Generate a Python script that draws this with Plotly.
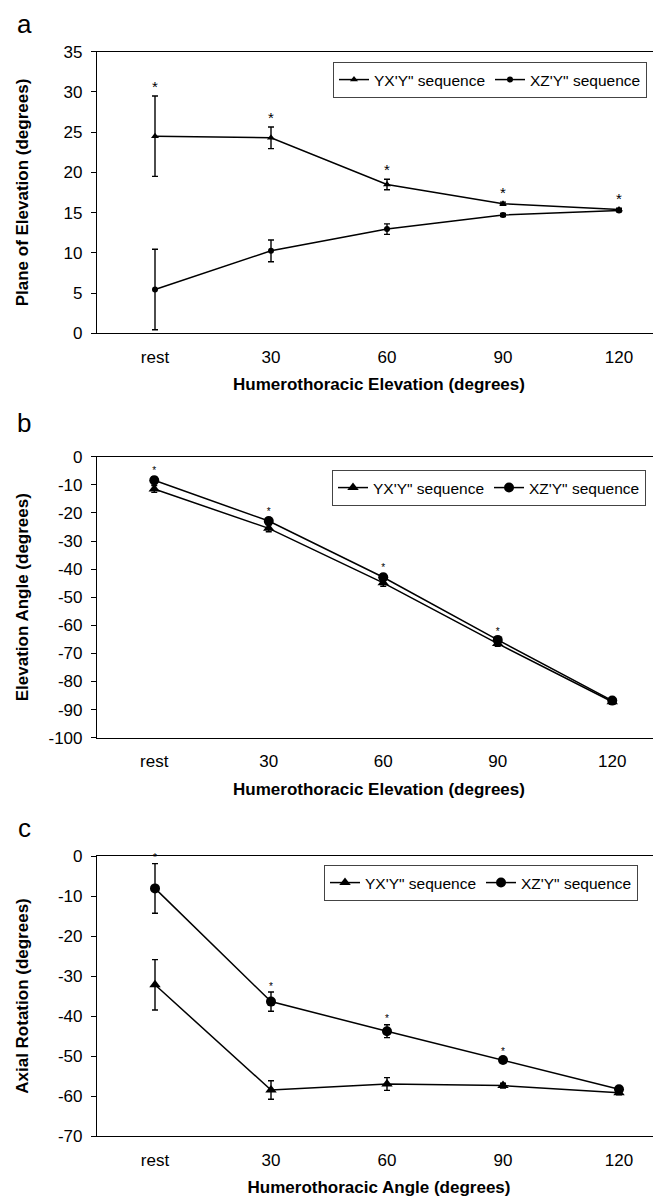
import plotly.graph_objects as go

categories = ["rest", "30", "60", "90", "120"]
series_names = ["YX'Y\" sequence", "XZ'Y\" sequence"]

# Panel a: Plane of Elevation
a_yx = [24.5, 24.3, 18.5, 16.1, 15.4]
a_yx_err = [5.0, 1.35, 0.65, 0.2, 0.15]
a_xz = [5.45, 10.25, 12.95, 14.7, 15.25]
a_xz_err = [5.0, 1.35, 0.65, 0.2, 0.15]
a_sig = [True, True, True, True, True]

# Panel b: Elevation Angle
b_yx = [-11.5, -25.5, -44.9, -66.5, -87.2]
b_yx_err = [1.2, 1.2, 1.2, 1.0, 0.8]
b_xz = [-8.4, -22.9, -42.9, -65.2, -86.8]
b_xz_err = [1.3, 1.2, 1.2, 1.0, 0.8]
b_sig = [True, True, True, True, False]

# Panel c: Axial Rotation
c_yx = [-32.2, -58.5, -57.0, -57.4, -59.2]
c_yx_err = [6.3, 2.3, 1.6, 0.6, 0.5]
c_xz = [-8.1, -36.4, -43.8, -51.0, -58.3]
c_xz_err = [6.2, 2.4, 1.6, 0.7, 0.5]
c_sig = [True, True, True, True, False]

FONT = "Liberation Sans, Arial, sans-serif"
OFF = 8                      # page body margin of the html output
W, H = 661 - OFF, 1199 - OFF
L = 97 - OFF


def py(v):
    """reference pixel row -> paper fraction"""
    return 1 - (v - OFF) / H


def px(v):
    """reference pixel column -> paper fraction"""
    return (v - OFF - L) / (W - L)


panels = [
    dict(letter="a", yx=a_yx, yxe=a_yx_err, xz=a_xz, xze=a_xz_err, sig=a_sig, star_on="yx",
         ytitle="Plane of Elevation (degrees)", xtitle="Humerothoracic Elevation (degrees)",
         yrange=[0, 35], dtick=5, dom=[py(333.3), py(51.7)], xr=[-0.5, 4.362],
         msize=(7, 6), starsize=15, tickside="bottom", legend=(333, 62), lettery=None, ystand=30),
    dict(letter="b", yx=b_yx, yxe=b_yx_err, xz=b_xz, xze=b_xz_err, sig=b_sig, star_on="xz",
         ytitle="Elevation Angle (degrees)", xtitle="Humerothoracic Elevation (degrees)",
         yrange=[-100, 0], dtick=10, dom=[py(737.7), py(456.7)], xr=[-0.5, 4.426],
         msize=(10, 10), starsize=10, tickside="top", legend=(332, 470), lettery=423, ystand=15),
    dict(letter="c", yx=c_yx, yxe=c_yx_err, xz=c_xz, xze=c_xz_err, sig=c_sig, star_on="xz",
         ytitle="Axial Rotation (degrees)", xtitle="Humerothoracic Angle (degrees)",
         yrange=[-70, 0], dtick=10, dom=[py(1136), py(856)], xr=[-0.5, 4.362],
         msize=(10, 10), starsize=10, tickside="top", legend=(324, 865), lettery=828, ystand=24),
]

xpos = list(range(len(categories)))
fig = go.Figure()
layout = dict(
    width=W, height=H, paper_bgcolor="white", plot_bgcolor="white",
    margin=dict(l=L, r=0, t=0, b=0, autoexpand=False),
    font=dict(family=FONT, size=17, color="black"),
    showlegend=True, annotations=[],
)

for i, p in enumerate(panels):
    n = i + 1
    xa = "x" if n == 1 else f"x{n}"
    ya = "y" if n == 1 else f"y{n}"
    lg = "legend" if n == 1 else f"legend{n}"
    for name, vals, errs, sym, ms in [
        (series_names[0], p["yx"], p["yxe"], "triangle-up", p["msize"][0]),
        (series_names[1], p["xz"], p["xze"], "circle", p["msize"][1]),
    ]:
        fig.add_trace(go.Scatter(
            x=xpos, y=vals, name=name, mode="lines+markers",
            line=dict(color="black", width=1.5),
            marker=dict(symbol=sym, size=ms, color="black"),
            error_y=dict(type="data", array=errs, visible=True, color="black", thickness=1.4, width=3),
            xaxis=xa, yaxis=ya, legend=lg, cliponaxis=False,
        ))
    base = p["yx"] if p["star_on"] == "yx" else p["xz"]
    berr = p["yxe"] if p["star_on"] == "yx" else p["xze"]
    sx = [x for x, s in zip(xpos, p["sig"]) if s]
    sy = [v + e for v, e, s in zip(base, berr, p["sig"]) if s]
    fig.add_trace(go.Scatter(
        x=sx, y=sy, mode="text", text=["*"] * len(sx), textposition="top center",
        textfont=dict(size=p["starsize"], color="black", family=FONT),
        showlegend=False, hoverinfo="skip", xaxis=xa, yaxis=ya, cliponaxis=False,
    ))

    lo, hi = p["yrange"]
    yt = list(range(lo, hi + 1, p["dtick"]))
    xkey = "xaxis" if n == 1 else f"xaxis{n}"
    ykey = "yaxis" if n == 1 else f"yaxis{n}"
    layout[xkey] = dict(
        domain=[0, 1], anchor=ya, range=p["xr"], tickmode="array", tickvals=xpos,
        ticktext=categories, ticks="", showline=True, linecolor="black", linewidth=1.2,
        mirror=True, showgrid=False, zeroline=False, tickfont=dict(size=17),
        ticklabelstandoff=8,
        title=dict(text="<b>" + p["xtitle"] + "</b>", font=dict(size=17), standoff=12),
    )
    layout[ykey] = dict(
        domain=p["dom"], anchor=xa, range=[lo, hi], tickmode="array", tickvals=yt,
        ticktext=[str(v) for v in yt], ticks="outside", ticklen=5, tickcolor="black",
        showline=True, linecolor="black", linewidth=1.2, showgrid=False, zeroline=False,
        tickfont=dict(size=17), ticklabelstandoff=5,
        title=dict(text="<b>" + p["ytitle"] + "</b>", font=dict(size=17), standoff=p["ystand"]),
    )
    # boundary tick marks between categories
    layout[f"xaxis{n + 3}"] = dict(
        overlaying=xa, anchor=ya, side=p["tickside"], range=p["xr"], tickmode="array",
        tickvals=[v - 0.5 for v in xpos], ticks="outside" if p["tickside"] == "bottom" else "inside",
        ticklen=5, tickcolor="black", tickwidth=1.2, showticklabels=False,
        showline=False, showgrid=False, zeroline=False,
    )
    layout[lg] = dict(
        x=px(p["legend"][0]), y=py(p["legend"][1]), xanchor="left", yanchor="top",
        orientation="h", bordercolor="#444", borderwidth=1, bgcolor="white",
        font=dict(size=15.5, family=FONT), itemwidth=30, tracegroupgap=0,
    )
    if p["lettery"] is None:
        ly, yanc = 1.0, "top"
    else:
        ly, yanc = py(p["lettery"]), "middle"
    layout["annotations"].append(dict(
        text=p["letter"], xref="paper", yref="paper", x=px(24),
        y=ly, xanchor="center", yanchor=yanc, showarrow=False, borderpad=0,
        font=dict(size=26, family=FONT, color="black"),
    ))

fig.update_layout(**layout)
fig.write_html("out.html")
